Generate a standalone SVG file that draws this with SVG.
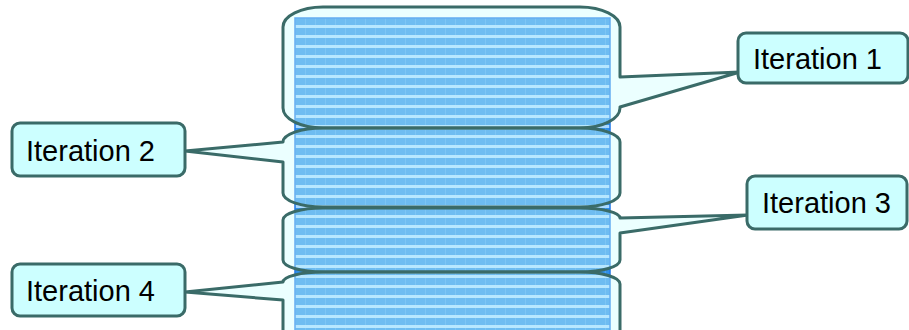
<svg xmlns="http://www.w3.org/2000/svg" width="909" height="330" viewBox="0 0 909 330">
<defs>
<pattern id="stripes" patternUnits="userSpaceOnUse" x="295" y="18" width="10" height="10">
<rect width="10" height="10" fill="#a8d8ff"/>
<rect y="0" width="10" height="7" fill="#3090e8"/>
<rect x="0" width="1" height="7" fill="#5aa8f0" opacity="0.6"/>
</pattern>
<style>
.callout{fill:#ccffff;fill-opacity:0.4;stroke:#3a6b68;stroke-width:3;stroke-linejoin:round}
.box{fill:#ccffff;stroke:#3a6b68;stroke-width:3}
.lbl{font-family:"Liberation Sans",Arial,sans-serif;font-size:29px;fill:#000}
</style>
</defs>
<rect id="column" x="295" y="18" width="315" height="330" fill="url(#stripes)" stroke="#1f77e8" stroke-width="1.5"/>
<g id="connectors">
<path class="callout" d="M 323,7 H 580 A 40 20 0 0 1 620,27 V 77 L 740,72 L 620,107 V 108 A 40 20 0 0 1 580,128 H 323 A 40 20 0 0 1 283,108 V 27 A 40 20 0 0 1 323,7 Z"/>
<path class="callout" d="M 323,128 H 580 A 40 14 0 0 1 620,142 V 193 A 40 14 0 0 1 580,207 H 323 A 40 14 0 0 1 283,193 V 162 L 185,151 L 283,142 A 40 14 0 0 1 323,128 Z"/>
<path class="callout" d="M 323,208 H 580 A 40 10 0 0 1 620,218 L 748,215 L 620,233 V 260 A 40 12 0 0 1 580,272 H 323 A 40 12 0 0 1 283,260 V 220 A 40 12 0 0 1 323,208 Z"/>
<path class="callout" d="M 323,272 H 580 A 40 12 0 0 1 620,284 V 345 H 283 V 300 L 185,292 L 283,282 A 40 10 0 0 1 323,272 Z"/>
</g>
<g id="iter1"><rect class="box" x="738" y="33" width="170" height="50" rx="8"/><text class="lbl" x="753" y="69">Iteration 1</text></g>
<g id="iter2"><rect class="box" x="12" y="123" width="173" height="53" rx="8"/><text class="lbl" x="26" y="161">Iteration 2</text></g>
<g id="iter3"><rect class="box" x="747" y="176" width="160" height="53" rx="8"/><text class="lbl" x="762" y="213">Iteration 3</text></g>
<g id="iter4"><rect class="box" x="12" y="264" width="173" height="52" rx="8"/><text class="lbl" x="26" y="301">Iteration 4</text></g>
</svg>
